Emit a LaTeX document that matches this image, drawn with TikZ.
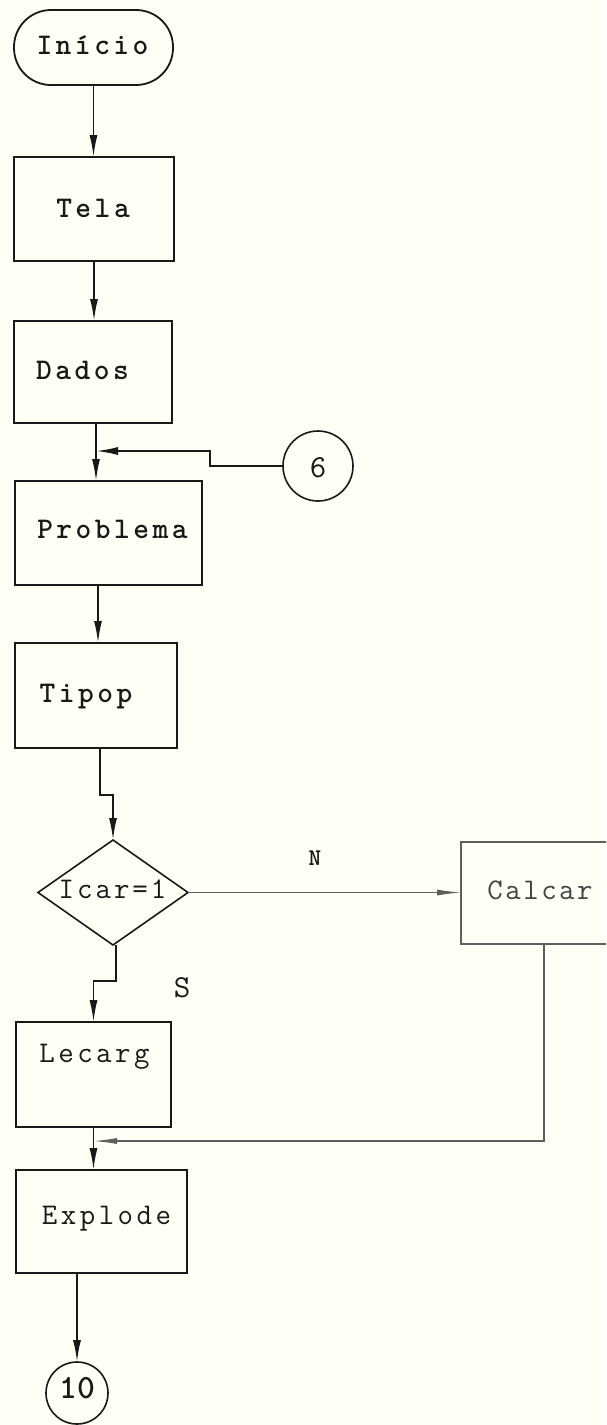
\documentclass[tikz,border=0pt]{standalone}
\usepackage{fontspec}
\usetikzlibrary{arrows.meta,shapes.geometric}
\definecolor{paper}{RGB}{255,255,246}
\definecolor{ink}{RGB}{25,25,25}
\definecolor{faint}{RGB}{95,95,95}
% wide typewriter lettering: a fixed kern after every character
\newdimen\tracking
\tracking=3.5pt
\makeatletter
\newcommand{\spread}[1]{\@tfor\sp@ch:=#1\do{\sp@ch\kern\tracking}\unkern}
\makeatother
\newcommand{\twfont}[1]{\ttfamily\fontsize{#1}{#1}\selectfont}

\begin{document}
\begin{tikzpicture}[x=1pt,y=-1pt,
  box/.style={draw=ink, line width=1.8pt, rectangle, outer sep=0pt, inner sep=0pt},
  lightbox/.style={draw=faint, line width=1.2pt, rectangle, outer sep=0pt, inner sep=0pt},
  decision/.style={draw=ink, line width=1.6pt, diamond, outer sep=0pt, inner sep=0pt},
  connector/.style={draw=ink, line width=1.6pt, circle, outer sep=0pt, inner sep=0pt},
  boldtxt/.style={font=\bfseries\twfont{30}, inner sep=0pt, anchor=base, text=ink},
  plaintxt/.style={font=\twfont{30}, inner sep=0pt, anchor=base, text=ink},
  flow/.style={draw=ink, line width=1.8pt, -{Latex[length=22pt,width=8pt]}},
  lightflow/.style={draw=faint, line width=1.2pt, -{Latex[length=24pt,width=6pt]}}
]
% page and its margins
\fill[paper] (0,0) rectangle (606,1425);
\useasboundingbox (0,0) rectangle (606,1425);
\clip (0,0) rectangle (606,1425);

% blocks
\node[box, rounded corners=37pt, minimum width=159pt, minimum height=75pt] (start) at (93.5,47.5) {};
\node[box, minimum width=160pt, minimum height=104pt] (tela) at (94,209) {};
\node[box, minimum width=158pt, minimum height=102pt] (dados) at (93,372) {};
\node[box, minimum width=187pt, minimum height=104pt] (problema) at (108.5,533) {};
\node[box, minimum width=162pt, minimum height=105pt] (tipop) at (96,695.5) {};
\node[decision, minimum width=150pt, minimum height=105pt] (dec) at (113,892.5) {};
\node[lightbox, minimum width=155pt, minimum height=102pt] (calcar) at (538.5,893) {};
\node[box, minimum width=155pt, minimum height=105pt] (lecarg) at (93.5,1074.5) {};
\node[box, minimum width=171pt, minimum height=103pt] (explode) at (101.5,1221.5) {};
\node[connector, minimum size=70pt] (c6) at (318,466) {};
\node[connector, minimum size=62pt] (c10) at (77,1393) {};

% block texts
\node[boldtxt] (startT) at (92.5,54) {\spread{Início}};
\node[boldtxt] (telaT) at (93,217) {\spread{Tela}};
\node[boldtxt] (dadosT) at (82.5,379) {\spread{Dados}};
\node[boldtxt] (problemaT) at (112.5,538) {\spread{Problema}};
\node[boldtxt] (tipopT) at (86,702) {\spread{Tipop}};
\node[plaintxt] (decT) at (112.5,898) {\tracking=3pt\spread{Icar=1}};
\node[plaintxt, text=faint!60!ink] (calcarT) at (540,899) {\tracking=2.5pt\spread{Calcar}};
\node[plaintxt] (lecargT) at (94.5,1062) {\spread{Lecarg}};
\node[plaintxt] (explodeT) at (106.5,1224) {\spread{Explode}};
\node[plaintxt, font=\twfont{32}] (c6T) at (318,477) {6};
\node[boldtxt, font=\bfseries\ttfamily\fontsize{34}{34}\selectfont] (c10T) at (77,1398) {10};
\node[boldtxt, font=\bfseries\twfont{24}] (noT) at (315,865) {N};
\node[plaintxt, font=\twfont{32}] (yesT) at (182,997) {S};

% junction points on the main line
\coordinate (j6) at (96,451);
\coordinate (j10) at (93,1141);

% connectors
\draw[flow] (start.south) -- (start.south |- tela.north);
\draw[flow] (tela.south) -- (tela.south |- dados.north);
\draw[flow] ([xshift=3pt]dados.south) -- ([xshift=3pt]dados.south |- problema.north);
\draw[flow] (c6.west) -- ++(-73,0) |- (j6);
\draw[flow] ([xshift=2pt]tipop.north |- problema.south) -- ([xshift=2pt]tipop.north);
\draw[flow] ([xshift=4pt]tipop.south) -- ++(0,47) -| (dec.north);
\draw[lightflow] (dec.east) -- (dec.east -| calcar.west);
\draw[flow] ([xshift=3pt]dec.south) -- ++(0,36) -| (lecarg.north);
\draw[flow] (lecarg.south) -- (lecarg.south |- explode.north);
\draw[lightflow, line width=1.4pt] ([xshift=5.5pt]calcar.south) |- (j10);
\draw[flow] (explode.south -| c10.north) -- (c10.north);
\end{tikzpicture}
\end{document}
